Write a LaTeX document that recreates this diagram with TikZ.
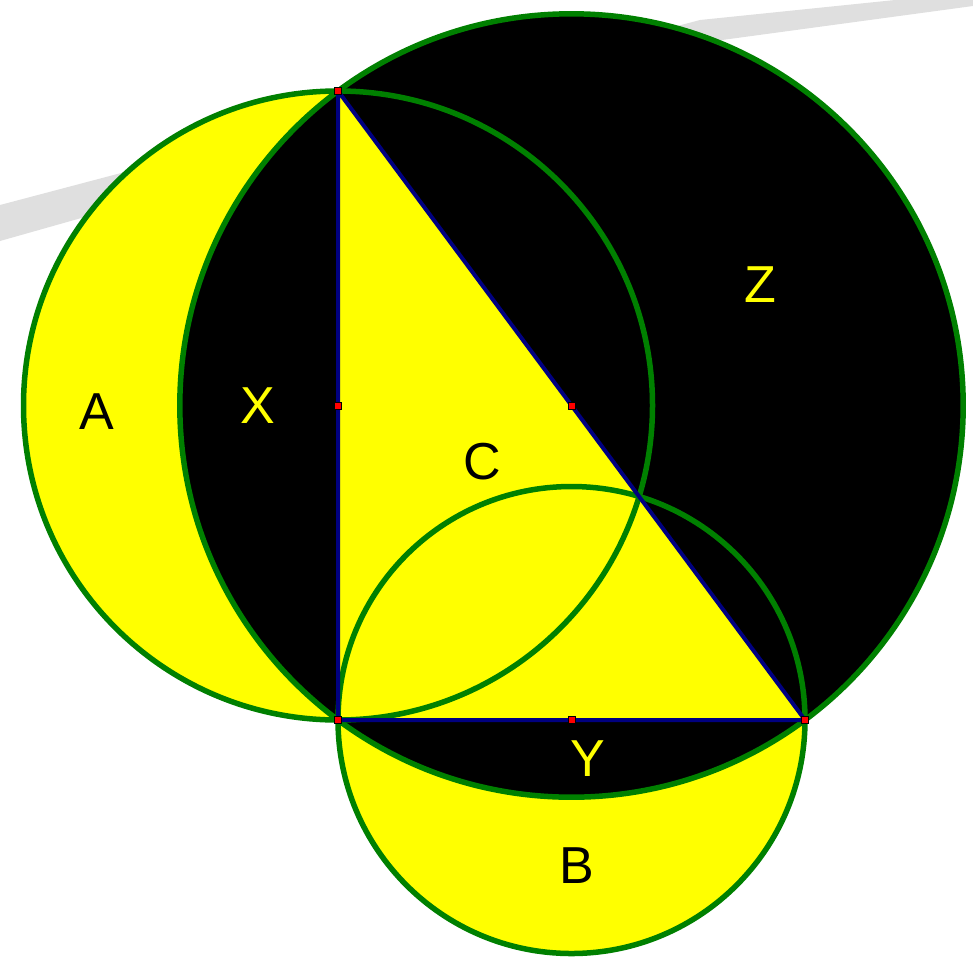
\documentclass[tikz,border=0pt]{standalone}
\usepackage{fontspec}
\setmainfont{Liberation Sans}
\usetikzlibrary{calc}

\definecolor{navyline}{RGB}{0,0,128}
\definecolor{rimgreen}{RGB}{0,128,0}
\definecolor{lemon}{RGB}{255,255,0}

\begin{document}
\begin{tikzpicture}[
        x=1pt, y=-1pt,
        rim/.style={draw=rimgreen, line width=5.5pt},
        side/.style={draw=navyline, line width=4pt, line join=round},
        reddot/.style={rectangle, inner sep=0pt, minimum size=7pt, fill=red, draw=black, line width=0.7pt},
        lbl/.style={font=\fontsize{52}{52}\selectfont, inner sep=0pt},
    ]
    \useasboundingbox (0,0) rectangle (973,956);

    %% ---- faint grey bar behind the figure ----
    \fill[gray!25] (0,205) -- (700,20) -- (973,-8) -- (973,6) -- (700,43) -- (0,241) -- cycle;

    %% ---- Triangle corners and side midpoints ----
    \coordinate (T) at (338,91);
    \coordinate (L) at (338,720);
    \coordinate (R) at (805,720);
    \coordinate (MV) at ($(T)!0.5!(L)$);
    \coordinate (MH) at ($(L)!0.5!(R)$);
    \coordinate (MD) at ($(T)!0.5!(R)$);

    %% ---- Fills: lunes, big circle, triangle ----
    \fill[lemon] (MV) circle[radius=314.5pt];
    \fill[lemon] (MH) circle[radius=233.5pt];
    \fill[black] (MD) circle[radius=391.7pt];
    \fill[lemon] (T) -- (L) -- (R) -- cycle;

    %% ---- Circle outlines ----
    \draw[rim] (MV) circle[radius=314.5pt];
    \draw[rim] (MH) circle[radius=233.5pt];
    \draw[rim] (MD) circle[radius=391.7pt];

    %% ---- Triangle sides ----
    \draw[side] (T) -- (L) -- (R) -- cycle;

    % points
    \foreach \p in {T, L, R, MV, MH, MD} { \node[reddot] (dot\p) at (\p) {}; }

    %% ---- Region labels ----
    \node[lbl] (lblA) at (97,412) {A};
    \node[lbl, lemon] (lblX) at (258,406) {X};
    \node[lbl] (lblC) at (482,462) {C};
    \node[lbl, lemon] (lblZ) at (760,285) {Z};
    \node[lbl, lemon] (lblY) at (588,759) {Y};
    \node[lbl] (lblB) at (577,866) {B};

\end{tikzpicture}
\end{document}
